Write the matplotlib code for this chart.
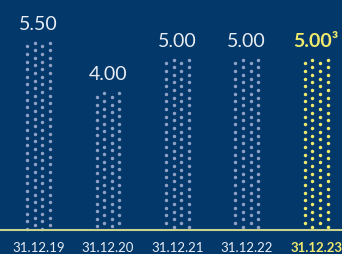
import numpy as np
import matplotlib
matplotlib.use("Agg")
import matplotlib.pyplot as plt

dates = ["31.12.19", "31.12.20", "31.12.21", "31.12.22", "31.12.23"]
values = [5.50, 4.00, 5.00, 5.00, 5.00]
value_labels = ["5.50", "4.00", "5.00", "5.00", "5.00\u00b3"]
highlight = [False, False, False, False, True]

bg = "#03386b"
dot_col = "#8ea2c6"
yellow = "#f0ea6c"
white = "#e9edf3"

plt.rcParams["font.family"] = ["Lato", "DejaVu Sans"]

fig = plt.figure(figsize=(3.42, 2.55), dpi=100)
fig.patch.set_facecolor(bg)
ax = fig.add_axes([0, 0, 1, 1])
ax.set_facecolor(bg)
ax.set_xlim(-0.555, 4.373)
ax.set_ylim(-0.754, 6.79)
ax.axis("off")

col_sp = 0.1095   # horizontal distance between dot columns
step = 0.225      # vertical distance between dots in a column

for i, v in enumerate(values):
    c = yellow if highlight[i] else dot_col
    for k, dx in enumerate([-1.5, -0.5, 0.5, 1.5]):
        phase = 0.0 if k % 2 == 1 else step / 2
        ys = np.arange(v - phase, -0.02, -step)
        ax.plot(np.full(len(ys), i + dx * col_sp), ys, "o", color=c,
                markersize=2.5, markeredgewidth=0)
    ax.annotate(value_labels[i], (i, v), xytext=(0, 10), textcoords="offset points",
                ha="center", va="baseline", fontsize=14,
                color=yellow if highlight[i] else white,
                fontweight="bold" if highlight[i] else "normal")
    ax.annotate(dates[i], (i, 0), xytext=(0, -16), textcoords="offset points",
                ha="center", va="baseline", fontsize=9.5,
                color=yellow if highlight[i] else white,
                fontweight="bold" if highlight[i] else "normal")

ax.axhline(-0.03, color="#c9d28c", linewidth=1.5)

fig.savefig("out.png", dpi=100, facecolor=bg)
